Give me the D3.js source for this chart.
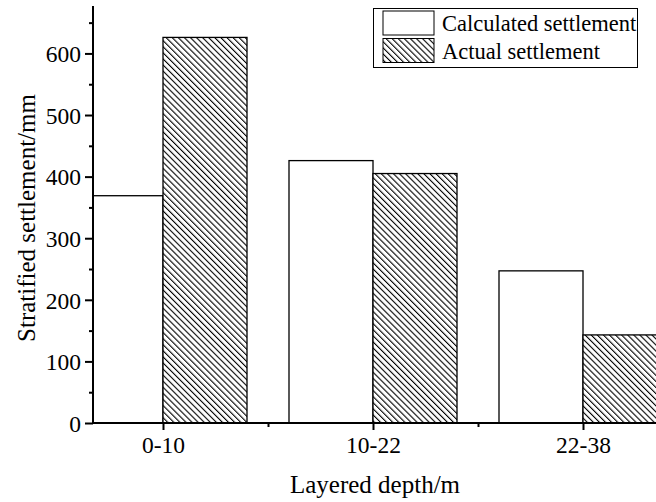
<!DOCTYPE html>
<html><head><meta charset="utf-8">
<script src="https://cdn.jsdelivr.net/npm/d3@7"></script>
<style>body{margin:0;background:#fff}svg{display:block}text{font-family:'Liberation Serif',serif;fill:#000}</style>
</head><body>
<svg id="c" width="656" height="502"></svg>
<script>
const categories = ["0-10", "10-22", "22-38"];
const calculated = [369, 426, 247];
const actual = [626, 405, 143];
const seriesNames = ["Calculated settlement", "Actual settlement"];
const yTicks = [0, 100, 200, 300, 400, 500, 600];

(function () {
const svg = d3.select("#c");
const FONT = "'Liberation Serif', serif";
const pL = 93, pR = 653, pT = 6, pB = 423;
const x = d3.scaleLinear().domain([-1/3, categories.length - 1 + 1/3]).range([pL, pR]);
const y = d3.scaleLinear().domain([0, 677]).range([pB, pT]);
const bw = 0.4;

const defs = svg.append("defs");
const pat = defs.append("pattern").attr("id", "hatch").attr("patternUnits", "userSpaceOnUse")
  .attr("width", 4.3).attr("height", 4.3).attr("patternTransform", "rotate(-45)");
pat.append("rect").attr("width", 4.3).attr("height", 4.3).attr("fill", "#fff");
pat.append("line").attr("x1", 0).attr("y1", 0).attr("x2", 0).attr("y2", 4.3)
  .attr("stroke", "#000").attr("stroke-width", 2.2);
defs.append("clipPath").attr("id", "clip").append("rect")
  .attr("x", pL).attr("y", 0).attr("width", 700).attr("height", pB);

const g = svg.append("g").attr("clip-path", "url(#clip)");
g.selectAll("rect.calc").data(calculated).join("rect").attr("class", "calc")
  .attr("x", (d, i) => x(i - bw)).attr("width", x(bw) - x(0))
  .attr("y", d => y(d)).attr("height", d => y(0) - y(d))
  .attr("fill", "#fff").attr("stroke", "#000").attr("stroke-width", 1.3);
g.selectAll("rect.act").data(actual).join("rect").attr("class", "act")
  .attr("x", (d, i) => x(i)).attr("width", x(bw) - x(0))
  .attr("y", d => y(d)).attr("height", d => y(0) - y(d))
  .attr("fill", "url(#hatch)").attr("stroke", "#000").attr("stroke-width", 1.3);

// Y axis
const ya = svg.append("g").attr("transform", `translate(${pL},0)`)
  .call(d3.axisLeft(y).tickValues(yTicks).tickSize(8).tickFormat(d3.format("d")));
const yMinor = svg.append("g").attr("transform", `translate(${pL},0)`)
  .call(d3.axisLeft(y).tickValues(yTicks.map(v => v + 50).filter(v => v < 677)).tickSize(4).tickFormat(""));
yMinor.select(".domain").remove();
ya.select(".domain").attr("d", `M0,${pT}V${pB}`);
[ya, yMinor].forEach(a => a.selectAll("line,path").attr("stroke", "#000").attr("stroke-width", 2));
ya.attr("font-family", FONT).attr("font-size", 23.5);
ya.selectAll("text").attr("x", -12).attr("dy", "0.35em").style("font-family", FONT).attr("fill", "#000");

// X axis
const xa = svg.append("g").attr("transform", `translate(0,${pB})`)
  .call(d3.axisBottom(x).tickValues(categories.map((c, i) => i)).tickSize(7).tickFormat(i => categories[i]));
xa.select(".domain").attr("d", `M${pL},0H656`);
const xMinor = svg.append("g").attr("transform", `translate(0,${pB})`)
  .call(d3.axisBottom(x).tickValues([-0.5, 0.5, 1.5].filter(v => x(v) > pL)).tickSize(4).tickFormat(""));
xMinor.select(".domain").remove();
[xa, xMinor].forEach(a => a.selectAll("line,path").attr("stroke", "#000").attr("stroke-width", 2));
xa.attr("font-family", FONT).attr("font-size", 23.5);
xa.selectAll("text").attr("y", 13).attr("dy", "0.71em").style("font-family", FONT).attr("fill", "#000");

svg.append("text").attr("x", 375).attr("y", 493).attr("text-anchor", "middle")
  .attr("font-size", 25).text("Layered depth/m");
svg.append("text").attr("transform", "translate(35,218) rotate(-90)").attr("text-anchor", "middle")
  .attr("font-size", 25).text("Stratified settlement/mm");

// Legend
const lg = svg.append("g");
lg.append("rect").attr("x", 373.5).attr("y", 8.5).attr("width", 264).attr("height", 59)
  .attr("fill", "#fff").attr("stroke", "#000").attr("stroke-width", 1);
const fills = ["#fff", "url(#hatch)"];
seriesNames.forEach((n, i) => {
  lg.append("rect").attr("x", 383).attr("y", 11 + i * 27.5).attr("width", 51).attr("height", 24)
    .attr("fill", fills[i]).attr("stroke", "#000").attr("stroke-width", 1);
  lg.append("text").attr("x", 442).attr("y", 31 + i * 28).attr("font-size", 22.5).text(n);
});
})();
</script>
</body></html>
